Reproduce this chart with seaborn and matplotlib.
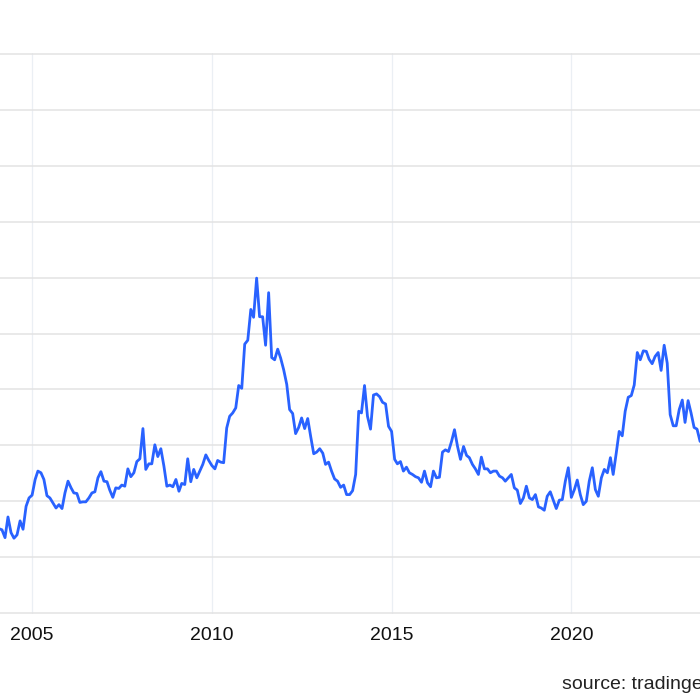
import matplotlib
matplotlib.use("Agg")
import matplotlib.pyplot as plt
import matplotlib.dates as mdates
import numpy as np
import pandas as pd
import seaborn as sns

# Monthly values, Feb 2004 onward
vals_2004_2006 = [1.51, 1.49, 1.35, 1.72, 1.44, 1.34, 1.40, 1.65, 1.50, 1.91, 2.06, 2.11,
                  2.39, 2.54, 2.51, 2.39, 2.10, 2.06, 1.97, 1.88, 1.94, 1.87, 2.15, 2.36,
                  2.24, 2.15, 2.14, 1.98, 1.99, 1.99, 2.06, 2.15, 2.17, 2.42, 2.53, 2.36]
vals_2007_2009 = [2.35, 2.20, 2.07, 2.24, 2.23, 2.29, 2.27, 2.58, 2.44, 2.51, 2.71, 2.76,
                  3.30, 2.57, 2.67, 2.67, 3.01, 2.80, 2.94, 2.63, 2.27, 2.29, 2.26, 2.39,
                  2.18, 2.32, 2.30, 2.76, 2.35, 2.57, 2.42, 2.54, 2.66, 2.83, 2.73, 2.64]
vals_2010_2012 = [2.58, 2.73, 2.70, 2.69, 3.31, 3.52, 3.58, 3.67, 4.07, 4.02, 4.81, 4.88,
                  5.43, 5.29, 5.99, 5.30, 5.30, 4.79, 5.73, 4.57, 4.53, 4.72, 4.56, 4.35,
                  4.09, 3.64, 3.57, 3.21, 3.32, 3.49, 3.30, 3.48, 3.16, 2.85, 2.88, 2.94]
vals_2013_2015 = [2.86, 2.66, 2.70, 2.54, 2.40, 2.36, 2.25, 2.29, 2.12, 2.12, 2.19, 2.48,
                  3.61, 3.58, 4.07, 3.52, 3.29, 3.90, 3.92, 3.87, 3.77, 3.74, 3.34, 3.25,
                  2.75, 2.67, 2.71, 2.54, 2.61, 2.51, 2.48, 2.44, 2.42, 2.34, 2.54, 2.33]
vals_2016_2018 = [2.26, 2.54, 2.42, 2.43, 2.88, 2.92, 2.89, 3.07, 3.28, 2.98, 2.75, 2.98,
                  2.82, 2.78, 2.66, 2.58, 2.48, 2.79, 2.58, 2.58, 2.51, 2.54, 2.54, 2.45,
                  2.42, 2.36, 2.42, 2.48, 2.24, 2.20, 1.96, 2.06, 2.27, 2.06, 2.03, 2.12]
vals_2019_2021 = [1.90, 1.88, 1.84, 2.09, 2.17, 2.02, 1.87, 2.02, 2.03, 2.36, 2.60, 2.07,
                  2.21, 2.38, 2.12, 1.94, 2.00, 2.36, 2.60, 2.21, 2.09, 2.42, 2.57, 2.51,
                  2.78, 2.48, 2.86, 3.25, 3.17, 3.61, 3.86, 3.89, 4.08, 4.66, 4.53, 4.69]
vals_2022_2023 = [4.68, 4.54, 4.46, 4.59, 4.66, 4.34, 4.79, 4.47, 3.55, 3.35, 3.35, 3.64,
                  3.81, 3.41, 3.80, 3.58, 3.32, 3.29, 3.07]

values = (vals_2004_2006 + vals_2007_2009 + vals_2010_2012 + vals_2013_2015
          + vals_2016_2018 + vals_2019_2021 + vals_2022_2023)
dates = pd.date_range("2004-02-01", periods=len(values), freq="MS")
year_ticks = [2005, 2010, 2015, 2020]
source_text = "source: tradingeconomics.com"

df = pd.DataFrame({"date": dates, "value": values})

sns.set_style("white")
plt.rcParams["font.family"] = ["Liberation Sans", "DejaVu Sans"]

fig = plt.figure(figsize=(7, 7), dpi=100)
ax = fig.add_axes([0, 86 / 700, 1, 561 / 700])

sns.lineplot(data=df, x="date", y="value", ax=ax, color="#2962FF", linewidth=2.0)

ax.set_xlim(pd.Timestamp("2004-02-10"), pd.Timestamp("2023-07-31"))
ax.set_ylim(-0.015, 10.015)
ax.set_yticks(np.arange(0, 11, 1))
ax.set_xticks([pd.Timestamp(f"{y}-01-01") for y in year_ticks])
ax.xaxis.set_major_formatter(mdates.DateFormatter("%Y"))

ax.yaxis.grid(True, color="#e3e3e3", linewidth=1.1)
ax.xaxis.grid(True, color="#ebeff4", linewidth=0.9)
ax.set_axisbelow(True)
for s in ax.spines.values():
    s.set_visible(False)

ax.tick_params(axis="y", left=False, labelleft=False)
ax.tick_params(axis="x", bottom=False, length=0, pad=9.5, labelsize=14, labelcolor="#111111")
ax.set_xlabel("")
ax.set_ylabel("")

fig.text(562 / 700, 11 / 700, source_text, ha="left", va="baseline",
         fontsize=14, color="#222222")

fig.savefig("out.png", dpi=100)
